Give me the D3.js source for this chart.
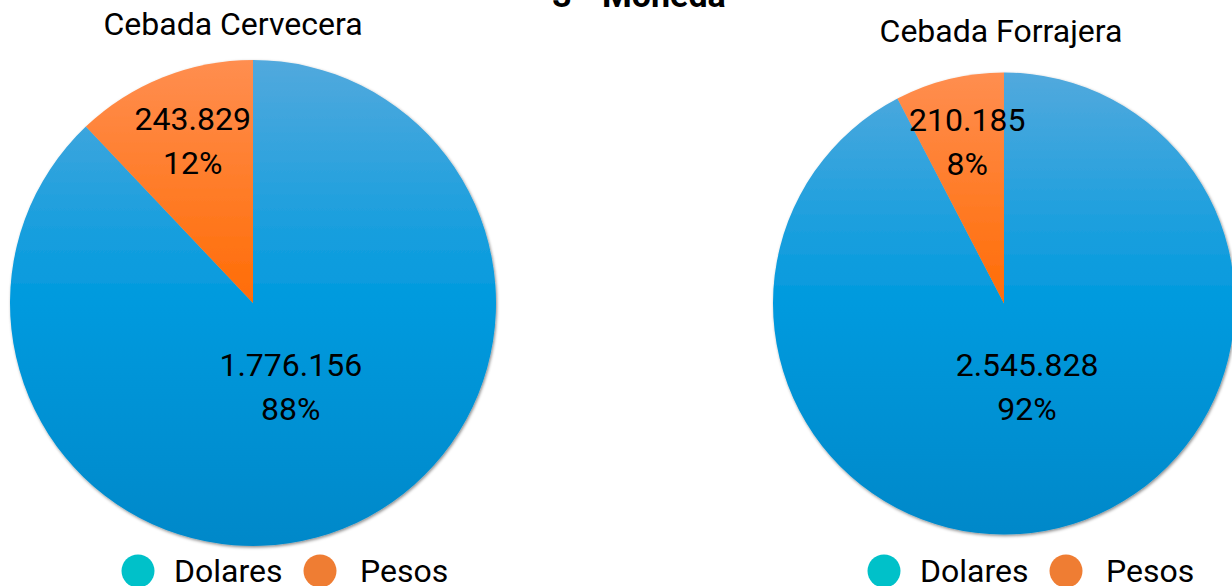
<!DOCTYPE html>
<html lang="es"><head>
<meta charset="utf-8">
<title>3 - Moneda</title>
<script src="https://cdnjs.cloudflare.com/ajax/libs/d3/7.8.5/d3.min.js"></script>
<style>
  body { margin: 0; background: #fff; }
  svg text { font-family: Roboto, "Noto Sans", sans-serif; fill: #000; }
</style>
</head>
<body>
<svg id="chart" width="1232" height="586"></svg>
<script>
// datos
var title = "3 - Moneda";
var pieTitles = ["Cebada Cervecera", "Cebada Forrajera"];
var categories = ["Dolares", "Pesos"];
var cerveceraValues = [1776156, 243829];
var forrajeraValues = [2545828, 210185];

var legendColors = ["#00c1c9", "#ef7d33"];
// light top / mid / dark bottom of each slice gradient
var sliceShades = [["#52a9dd", "#009ade", "#0088c9"], ["#ff8e50", "#ff6c05", "#f06000"]];

var svg = d3.select("#chart");
var defs = svg.append("defs");

var shadow = defs.append("filter").attr("id", "shadow")
  .attr("x", "-5%").attr("y", "-5%").attr("width", "110%").attr("height", "110%");
shadow.append("feDropShadow")
  .attr("dx", 1).attr("dy", 1.5).attr("stdDeviation", 1.5)
  .attr("flood-color", "#000").attr("flood-opacity", 0.45);

var locale = d3.formatLocale({decimal: ",", thousands: ".", grouping: [3], currency: ["$", ""]});
var fmtNum = locale.format(",d");
var fmtPct = d3.format(".0%");

svg.append("text")
  .attr("x", 639).attr("y", 7)
  .attr("text-anchor", "middle")
  .style("font-size", "34px").style("font-weight", "bold")
  .text(title);

var charts = [
  {name: pieTitles[0], values: cerveceraValues, cx: 253, cy: 303, r: 243, titleX: 233, titleY: 35, legendX: 138},
  {name: pieTitles[1], values: forrajeraValues, cx: 1004, cy: 303.5, r: 231, titleX: 1001, titleY: 42, legendX: 884}
];

var pie = d3.pie().sort(null).value(function(d) { return d; });

charts.forEach(function(c, ci) {
  var g = svg.append("g").attr("transform", "translate(" + c.cx + "," + c.cy + ")");

  // gradients in user space so the shading runs across the whole pie
  sliceShades.forEach(function(s, si) {
    var lg = defs.append("linearGradient")
      .attr("id", "grad" + ci + "_" + si)
      .attr("gradientUnits", "userSpaceOnUse")
      .attr("x1", 0).attr("y1", -c.r).attr("x2", 0).attr("y2", c.r);
    lg.append("stop").attr("offset", "0%").attr("stop-color", s[0]);
    lg.append("stop").attr("offset", "50%").attr("stop-color", s[1]);
    lg.append("stop").attr("offset", "100%").attr("stop-color", s[2]);
  });

  var total = d3.sum(c.values);
  var arcs = pie(c.values);
  var arc = d3.arc().innerRadius(0).outerRadius(c.r);

  var slices = g.append("g").attr("filter", "url(#shadow)");
  slices.selectAll("path")
    .data(arcs)
    .enter()
    .append("path")
    .attr("d", arc)
    .attr("fill", function(d, i) { return "url(#grad" + ci + "_" + i + ")"; });

  // labels: small slices further out, large slices closer to centre
  var labels = g.selectAll("g.lbl")
    .data(arcs)
    .enter()
    .append("g")
    .attr("class", "lbl")
    .attr("transform", function(d) {
      var share = (d.endAngle - d.startAngle) / (2 * Math.PI);
      var k = share > 0.5 ? 0.42 : 0.67;
      var a = (d.startAngle + d.endAngle) / 2;
      return "translate(" + (Math.sin(a) * c.r * k) + "," + (-Math.cos(a) * c.r * k) + ")";
    });
  labels.append("text")
    .attr("text-anchor", "middle").attr("y", -22)
    .style("font-size", "32px")
    .text(function(d) { return fmtNum(d.data); });
  labels.append("text")
    .attr("text-anchor", "middle").attr("y", 22)
    .style("font-size", "32px")
    .text(function(d) { return fmtPct(d.data / total); });

  svg.append("text")
    .attr("x", c.titleX).attr("y", c.titleY)
    .attr("text-anchor", "middle")
    .style("font-size", "32px")
    .text(c.name);

  // legend
  var legend = svg.append("g").attr("transform", "translate(" + c.legendX + ",571)");
  var item = legend.selectAll("g")
    .data(categories)
    .enter()
    .append("g")
    .attr("transform", function(d, i) { return "translate(" + (i * 182) + ",0)"; });
  item.append("circle").attr("r", 16.5)
    .attr("fill", function(d, i) { return legendColors[i]; });
  item.append("text")
    .attr("x", function(d, i) { return i === 0 ? 36 : 40; })
    .attr("y", 11)
    .style("font-size", "32px")
    .text(function(d) { return d; });
});
</script>
</body></html>
